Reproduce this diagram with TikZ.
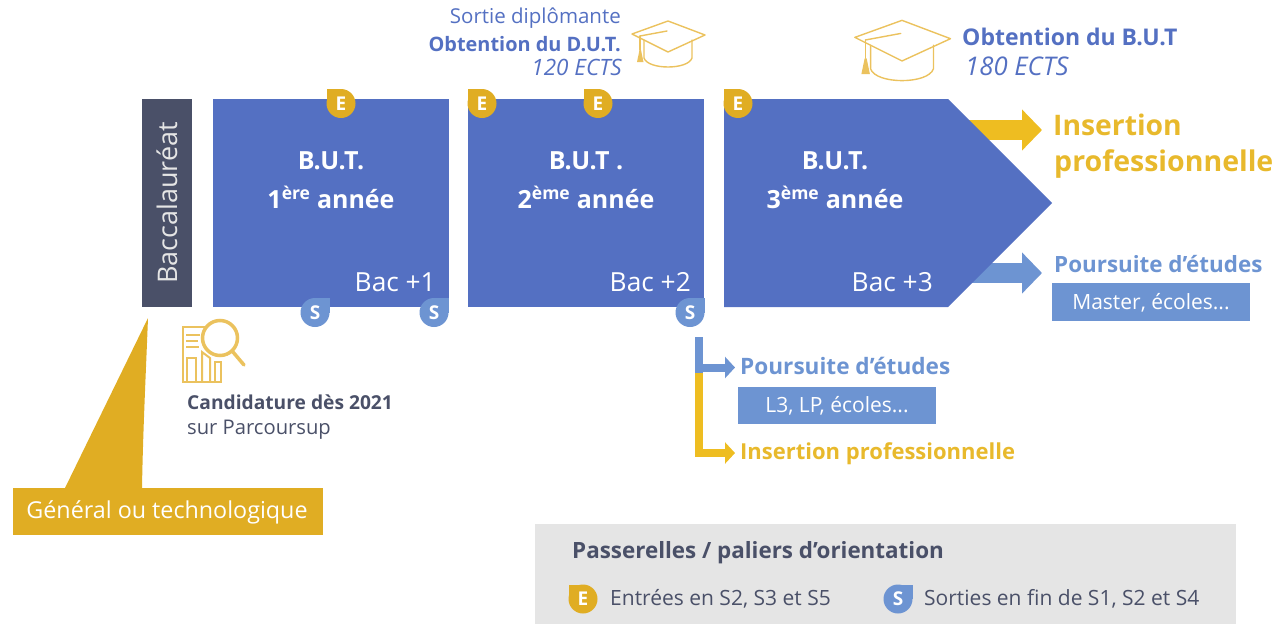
\documentclass[tikz,border=0pt]{standalone}
\usepackage{fontspec}
\setmainfont{Open Sans}
\usetikzlibrary{arrows.meta}
\definecolor{mainblue}{HTML}{5470C2}
\definecolor{lightblue}{HTML}{6D94D2}
\definecolor{slate}{HTML}{4A5068}
\definecolor{gold}{HTML}{E0AD23}
\definecolor{brightgold}{HTML}{EEBD21}
\definecolor{textgold}{HTML}{E8B92C}
\definecolor{panelgrey}{HTML}{E5E5E5}
\definecolor{icongold}{HTML}{EBC25E}
\newcommand{\fs}[1]{\fontsize{#1}{#1}\selectfont}
\tikzset{
  x=1pt,y=-1pt,
  yearbox/.style={fill=mainblue,minimum width=236pt,minimum height=208pt,inner sep=0pt,anchor=north west},
  yeartitle/.style={text=white,font=\fs{25}\bfseries,inner sep=0pt},
  bacnote/.style={text=white,font=\fs{26.3},inner sep=0pt,anchor=east},
  subbox/.style={fill=lightblue,inner sep=0pt},
  subtext/.style={text=white,font=\fs{21},inner sep=0pt},
  bigarrow/.style={line width=20pt,-{Triangle[length=20pt,width=40pt]}},
  smallarrow/.style={line width=8pt,-{Triangle[length=10pt,width=21pt]}},
  lbl/.style={inner sep=0pt,anchor=west},
  lblr/.style={inner sep=0pt,anchor=east},
  capline/.style={draw=icongold,line width=1.4pt,line join=round,line cap=round,fill=none},
  iconline/.style={draw=icongold,line width=2pt,fill=none},
  pics/gradcap/.style={code={
    \path[capline] (-36,-2) -- (0,-15) -- (37,-1) -- (0,16) -- cycle;
    \path[capline] (-24,4) -- (-24,22) .. controls (-20,34) and (20,34) .. (24,22) -- (24,4);
    \path[capline] (-28,0) -- (-1,-5);
    \path[capline] (-28,0) -- (-28,14);
    \path[fill=icongold] (-28.5,14) -- (-27,14) -- (-24.5,26) -- (-31,26) -- cycle;
  }},
  pics/badgee/.style={code={
    \path[fill=gold] (0,0) circle[radius=14.5pt];
    \path[fill=gold] (-14.5,-14.5) rectangle (0,0);
    \node[text=white,font=\fs{19}\bfseries,inner sep=0pt] at (0,0) {E};
  }},
  pics/badges/.style={code={
    \path[fill=lightblue] (0,0) circle[radius=14.5pt];
    \path[fill=lightblue] (14.5,-14.5) rectangle (0,0);
    \node[text=white,font=\fs{19}\bfseries,inner sep=0pt] at (0,0) {S};
  }},
}
\begin{document}
\begin{tikzpicture}
\useasboundingbox (0,0) rectangle (1276,624);
% panel
\node[fill=panelgrey,minimum width=701pt,minimum height=100pt,inner sep=0pt,anchor=north west] (panel) at (535,524) {};
% right arrows, beneath the pentagon
\coordinate (insstart) at (960,130);
\coordinate (instip) at (1042,130);
\coordinate (poustart) at (960,273);
\coordinate (poutip) at (1042,273);
\draw[bigarrow,brightgold] (insstart) -- (instip);
\draw[bigarrow,lightblue] (poustart) -- (poutip);
% boxes
\node[fill=slate,minimum width=50pt,minimum height=208pt,inner sep=0pt,anchor=north west] (bac) at (142,99) {};
\node[rotate=90,text=panelgrey,font=\fs{27},inner sep=0pt] (bactext) at (167,203) {Baccalauréat};
\node[yearbox] (y1) at (213,99) {};
\node[yearbox] (y2) at (468,99) {};
\path[fill=mainblue] (724,99) -- (948,99) -- (1052,203) -- (948,307) -- (724,307) -- cycle;
\node[yeartitle] (t1a) at (331,161) {B.U.T.};
\node[yeartitle] (t1b) at (331,197) {1\textsuperscript{ère} année};
\node[yeartitle] (t2a) at (586,161) {B.U.T .};
\node[yeartitle] (t2b) at (586,197) {2\textsuperscript{ème} année};
\node[yeartitle] (t3a) at (835,161) {B.U.T.};
\node[yeartitle] (t3b) at (835,197) {3\textsuperscript{ème} année};
\node[bacnote] (b1) at (436,282) {Bac +1};
\node[bacnote] (b2) at (691,282) {Bac +2};
\node[bacnote] (b3) at (933,282) {Bac +3};
% badges
\pic at (341,103.5) {badgee};
\pic at (482,103.5) {badgee};
\pic at (598,103.5) {badgee};
\pic at (738,103.5) {badgee};
\pic at (315,312.5) {badges};
\pic at (434,312.5) {badges};
\pic (s3) at (690,312.5) {badges};
% caps
\pic at (668,36) {gradcap};
\begin{scope}[shift={(902,40)},scale=1.31]
\pic[transform shape] {gradcap};
\end{scope}
% top texts
\node[lblr,text=mainblue,font=\fs{20.5}] (sortie) at (621,18) {Sortie diplômante};
\node[lblr,text=mainblue,font=\fs{19.9}\bfseries] (dut) at (621,44) {Obtention du D.U.T.};
\node[lblr,text=mainblue,font=\fs{22.5}\itshape] (ects1) at (622,67) {120 ECTS};
\node[lbl,text=mainblue,font=\fs{23}\bfseries] (but) at (962,37) {Obtention du B.U.T};
\node[lbl,text=mainblue,font=\fs{25.7}\itshape] (ects2) at (965,66) {180 ECTS};
% right labels
\node[lbl,text=textgold,font=\fs{28.3}\bfseries] (ins1) at (1053,125) {Insertion};
\node[lbl,text=textgold,font=\fs{28.5}\bfseries] (ins2) at (1054,164) {professionnelle};
\node[lbl,text=lightblue,font=\fs{22.4}\bfseries] (pou) at (1054,264) {Poursuite d’études};
\node[subbox,minimum width=198pt,minimum height=38pt] (master) at (1151,302) {};
\node[subtext] (mastertext) at (1151,303) {Master, écoles...};
% lower branch
\coordinate (vtop) at (699,337);
\coordinate (vmid) at (699,373);
\coordinate (tipa) at (735,367.5);
\coordinate (tipb) at (735,453);
\draw[smallarrow,brightgold] (vmid) |- (tipb);
\draw[smallarrow,lightblue] (vtop) |- (tipa);
\path[fill=lightblue] (695,360) rectangle (703,373);
\node[lbl,text=lightblue,font=\fs{22.6}\bfseries] (pou2) at (740,366) {Poursuite d’études};
\node[subbox,minimum width=198pt,minimum height=37pt] (l3) at (837,405) {};
\node[subtext] (l3text) at (837,406) {L3, LP, écoles...};
\node[lbl,text=textgold,font=\fs{22}\bfseries] (ins3) at (740,454) {Insertion professionnelle};
% magnifier icon
\path[iconline] (220,327) -- (183,327) -- (183,382) -- (222,382);
\path[iconline] (186,335) -- (200,335) (186,341) -- (198,341) (186,347) -- (199,347);
\path[iconline] (187,382) -- (187,358) -- (196,358) -- (196,382);
\path[iconline] (202,382) -- (202,352) -- (210,358) -- (210,382);
\path[iconline] (215,382) -- (215,362) -- (221,362) -- (221,382);
\path[draw=icongold,line width=3.5pt,fill=white] (220,338) circle[radius=17.5pt];
\draw[icongold,line width=3.5pt,line cap=round] (233,352) -- (244,365);
\node[lbl,text=slate,font=\fs{19.2}\bfseries] (cand) at (187,402) {Candidature dès 2021};
\node[lbl,text=slate,font=\fs{20.2}] (parc) at (187,430) {sur Parcoursup};
% gold call-out
\path[fill=gold] (148,318) .. controls (146,370) and (143,430) .. (142,488) -- (65,488) -- cycle;
\node[fill=gold,minimum width=310pt,minimum height=47pt,inner sep=0pt,anchor=north west] (gen) at (13,488) {};
\node[text=white,font=\fs{23.3},inner sep=0pt] (gentext) at (167,512) {Général ou technologique};
% legend
\node[lbl,text=slate,font=\fs{22.4}\bfseries] (ptitle) at (572,553) {Passerelles / paliers d’orientation};
\pic at (583,599) {badgee};
\pic at (898,599) {badges};
\node[lbl,text=slate,font=\fs{21}] (le) at (610,599) {Entrées en S2, S3 et S5};
\node[lbl,text=slate,font=\fs{21}] (ls) at (924,599) {Sorties en fin de S1, S2 et S4};
\end{tikzpicture}
\end{document}
